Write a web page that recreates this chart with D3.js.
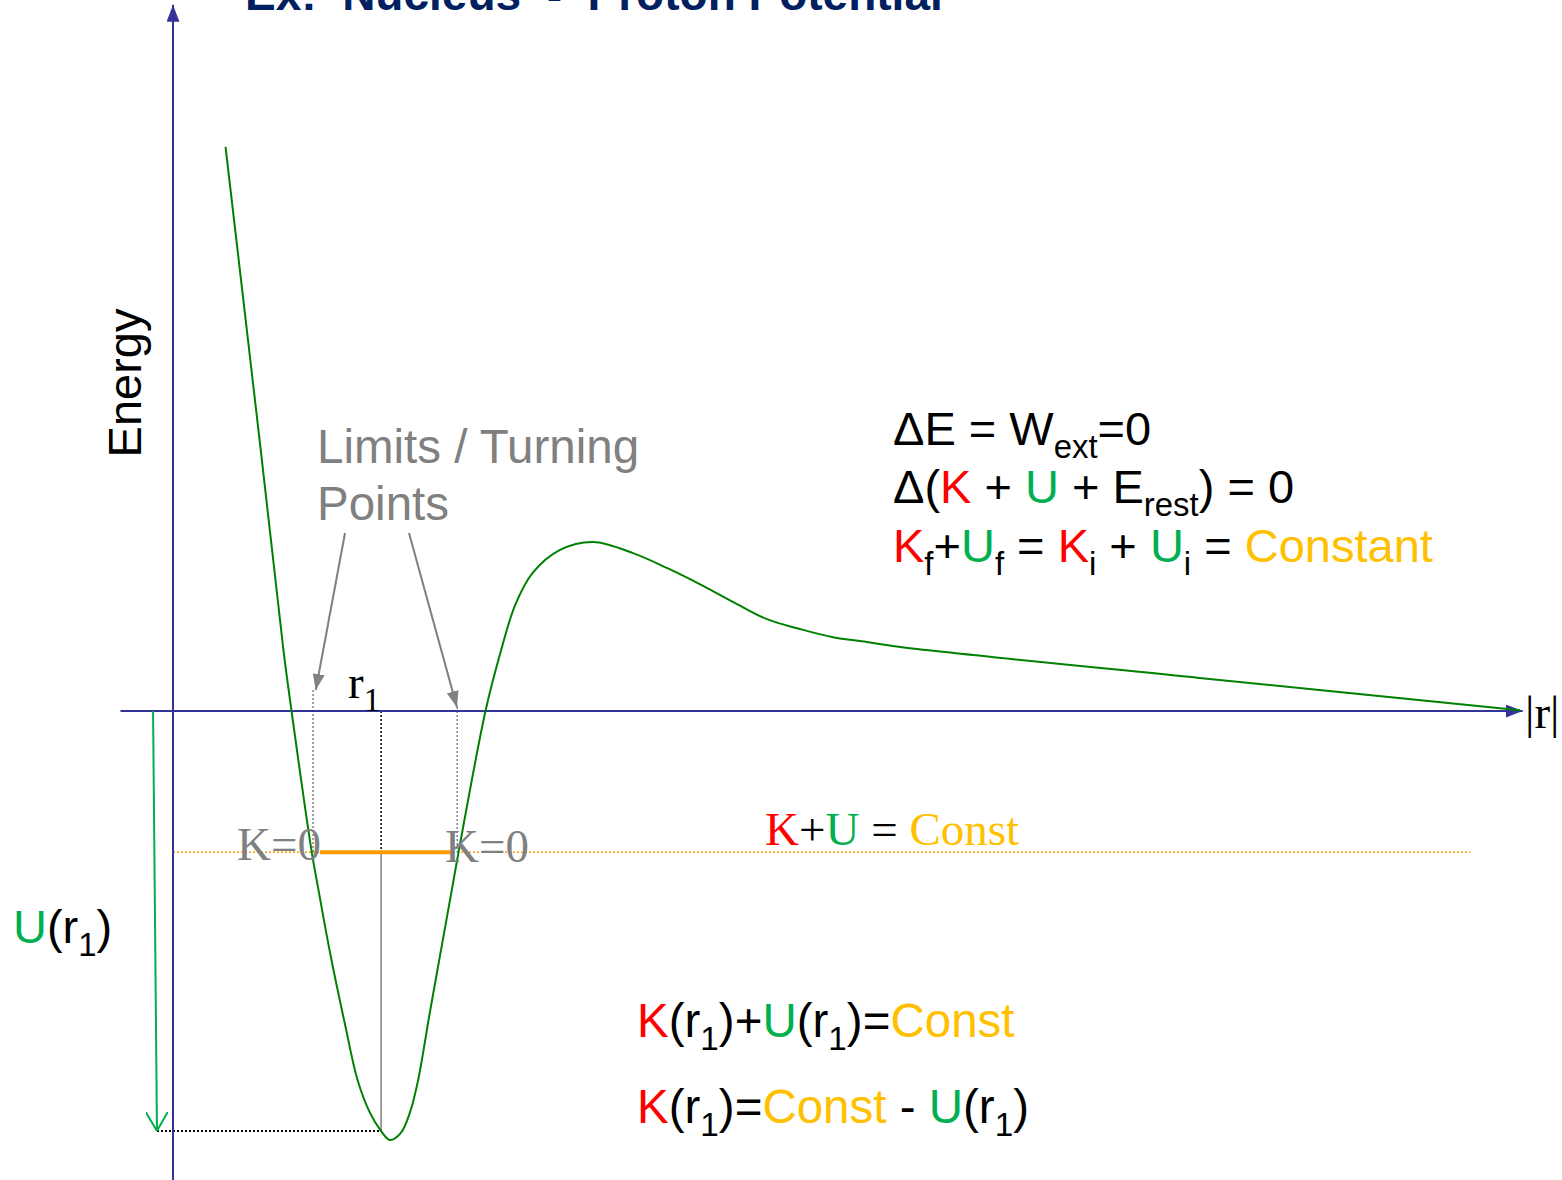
<!DOCTYPE html>
<html>
<head>
<meta charset="utf-8">
<script src="https://cdn.jsdelivr.net/npm/d3@7"></script>
<style>
  html, body { margin: 0; padding: 0; background: #fff; }
  svg text { white-space: pre; }
</style>
</head>
<body>
<div id="chart"></div>
<script>
// Potential curve U(r) (arbitrary units)
const rVals = [3.9, 6.5, 8.2, 8.8, 10.3, 10.8, 11.7, 12.8, 13.7, 14.6, 15.4, 16.1, 16.9, 17.6, 18.2, 19.1,
               20.7, 21.2, 23.2, 24.3, 25.4, 26.7, 28.7, 31.2, 34.15, 36.7, 39.1, 41.6, 44.1, 46.55, 49.0,
               51.5, 54.0, 76.2, 100];
const uVals = [131.5, 61.2, 14.2, 0, -32.9, -41.7, -57, -73.5, -86, -93.5, -97.7, -100, -98.4, -93.5, -86, -69.7,
               -41.7, -32.9, 0, 13.5, 24.7, 32.2, 37.5, 39.4, 36.8, 33.3, 29.6, 25.4, 21.4, 19.1, 17.2,
               16.1, 14.9, 7.7, 0.2];

// constant total energy level and the points marked on it
const constLevel = -32.9;
const constExtent = [0, 96.3];
const turningPoints = [10.4, 21.1];
const allowedRange = [10.9, 20.8];
const r1 = 15.45;
const uAtR1 = -97.9;

// axis extents
const rAxis = [-3.9, 100.2];
const eAxis = [-109.3, 164.6];

const width = 1562, height = 1180;
const red = "#ff0000", green = "#00b050", gold = "#ffc000", grey = "#808080", navy = "#333399";

const x = d3.scaleLinear().domain([0, 100]).range([173, 1520]);
const y = d3.scaleLinear().domain([0, -100]).range([711, 1140]);

const svg = d3.select("#chart")
    .append("svg")
    .attr("width", width)
    .attr("height", height)
    .attr("viewBox", `0 0 ${width} ${height}`);

// Arrow heads
const defs = svg.append("defs");
const addHead = (id, color, w, h, open) => {
    defs.append("marker")
        .attr("id", id)
        .attr("markerUnits", "userSpaceOnUse")
        .attr("viewBox", `0 0 ${w} ${h}`)
        .attr("refX", w).attr("refY", h / 2)
        .attr("markerWidth", w).attr("markerHeight", h)
        .attr("orient", "auto")
        .append("path")
        .attr("d", open ? `M0,0L${w},${h / 2}L0,${h}` : `M0,0L${w},${h / 2}L0,${h}Z`)
        .attr("fill", open ? "none" : color)
        .attr("stroke", open ? color : "none")
        .attr("stroke-width", 2);
};
addHead("head-navy", navy, 17, 13, false);
addHead("head-grey", grey, 16, 12, false);
addHead("head-green", green, 19, 22, true);

// Title (cut off at the top)
svg.append("text")
    .attr("x", 245)
    .attr("y", 10)
    .style("font-family", "Liberation Sans, Arial, sans-serif")
    .style("font-size", "46px")
    .style("font-weight", "bold")
    .style("fill", "#002060")
    .text("Ex:  Nucleus  -  Proton Potential");

// Constant energy line
svg.append("line")
    .attr("x1", x(constExtent[0])).attr("x2", x(constExtent[1]))
    .attr("y1", y(constLevel)).attr("y2", y(constLevel))
    .attr("stroke", "#ff9900")
    .attr("stroke-width", 1.5)
    .attr("stroke-dasharray", "2,2");

// Turning point guides
svg.selectAll(".turn")
    .data(turningPoints)
    .join("line")
    .attr("class", "turn")
    .attr("x1", d => x(d)).attr("x2", d => x(d))
    .attr("y1", (d, i) => i === 0 ? 690 : 707)
    .attr("y2", y(constLevel))
    .attr("stroke", grey)
    .attr("stroke-width", 1.5)
    .attr("stroke-dasharray", "2,2");

// r1 guides
svg.append("line")
    .attr("x1", x(r1)).attr("x2", x(r1))
    .attr("y1", y(0)).attr("y2", y(constLevel))
    .attr("stroke", "#000")
    .attr("stroke-width", 1.5)
    .attr("stroke-dasharray", "2,2");

svg.append("line")
    .attr("x1", x(r1)).attr("x2", x(r1))
    .attr("y1", y(constLevel)).attr("y2", y(uAtR1))
    .attr("stroke", grey)
    .attr("stroke-width", 1.5);

svg.append("line")
    .attr("x1", x(-1.19)).attr("x2", x(r1))
    .attr("y1", y(uAtR1)).attr("y2", y(uAtR1))
    .attr("stroke", "#000")
    .attr("stroke-width", 2)
    .attr("stroke-dasharray", "2,2");

// Allowed region on the constant line
svg.append("line")
    .attr("x1", x(allowedRange[0])).attr("x2", x(allowedRange[1]))
    .attr("y1", y(constLevel)).attr("y2", y(constLevel))
    .attr("stroke", "#ff9900")
    .attr("stroke-width", 4);

// Axes
svg.append("line")
    .attr("x1", x(0)).attr("x2", x(0))
    .attr("y1", y(eAxis[0])).attr("y2", y(eAxis[1]))
    .attr("stroke", navy)
    .attr("stroke-width", 2)
    .attr("marker-end", "url(#head-navy)");

svg.append("line")
    .attr("x1", x(rAxis[0])).attr("x2", x(rAxis[1]))
    .attr("y1", y(0)).attr("y2", y(0))
    .attr("stroke", navy)
    .attr("stroke-width", 2)
    .attr("marker-end", "url(#head-navy)");

// Potential curve
const pts = rVals.map((r, i) => [r, uVals[i]]);
svg.append("path")
    .datum(pts)
    .attr("d", d3.line().x(d => x(d[0])).y(d => y(d[1])).curve(d3.curveCatmullRom.alpha(0.5)))
    .attr("fill", "none")
    .attr("stroke", "#008000")
    .attr("stroke-width", 2);

// U(r1) arrow
svg.append("line")
    .attr("x1", x(-1.48)).attr("x2", x(-1.19))
    .attr("y1", y(0)).attr("y2", y(uAtR1))
    .attr("stroke", green)
    .attr("stroke-width", 2)
    .attr("marker-end", "url(#head-green)");

// Pointers from the label to the turning points
const pointers = [[12.77, 41.5, 10.6, 4.9], [17.52, 41.5, 21.08, 0.9]];
svg.selectAll(".pointer")
    .data(pointers)
    .join("line")
    .attr("class", "pointer")
    .attr("x1", d => x(d[0])).attr("y1", d => y(d[1]))
    .attr("x2", d => x(d[2])).attr("y2", d => y(d[3]))
    .attr("stroke", grey)
    .attr("stroke-width", 2)
    .attr("marker-end", "url(#head-grey)");

// Text helper with colours and subscripts
const SANS = "Liberation Sans, Arial, sans-serif";
const SERIF = "Liberation Serif, Times New Roman, serif";
const rich = (px, py, parts, family, size, base) => {
    const t = svg.append("text")
        .attr("x", px).attr("y", py)
        .style("font-family", family)
        .style("font-size", size + "px")
        .style("fill", base || "#000");
    let shifted = 0;
    parts.forEach(p => {
        const s = t.append("tspan").text(p.t);
        if (p.c) s.style("fill", p.c);
        const want = p.sub ? size * 0.27 : 0;
        if (want !== shifted) { s.attr("dy", want - shifted); shifted = want; }
        if (p.sub) s.style("font-size", (size * 0.7) + "px");
    });
    return t;
};

// Energy label
svg.append("text")
    .attr("transform", "translate(141,383) rotate(-90)")
    .attr("text-anchor", "middle")
    .style("font-family", SANS)
    .style("font-size", "47px")
    .style("fill", "#000")
    .text("Energy");

// Turning point label
rich(317, 463, [{ t: "Limits / Turning" }], SANS, 47.5, grey);
rich(317, 520, [{ t: "Points" }], SANS, 47.5, grey);

// Conservation of energy
rich(893, 445, [{ t: "ΔE = W" }, { t: "ext", sub: true }, { t: "=0" }], SANS, 47);
rich(893, 503, [{ t: "Δ(" }, { t: "K", c: red }, { t: " + " }, { t: "U", c: green }, { t: " + E" },
    { t: "rest", sub: true }, { t: ") = 0" }], SANS, 47);
rich(893, 562, [{ t: "K", c: red }, { t: "f", sub: true }, { t: "+" }, { t: "U", c: green }, { t: "f", sub: true },
    { t: " = " }, { t: "K", c: red }, { t: "i", sub: true }, { t: " + " }, { t: "U", c: green }, { t: "i", sub: true },
    { t: " = " }, { t: "Constant", c: gold }], SANS, 47);

// K+U = Const
rich(765, 845, [{ t: "K", c: red }, { t: "+" }, { t: "U", c: green }, { t: " = " }, { t: "Const", c: gold }], SERIF, 47);

// K=0 labels
rich(237, 860, [{ t: "K=0" }], SERIF, 47, grey);
rich(445, 862, [{ t: "K=0" }], SERIF, 47, grey);

// r1 and |r|
rich(348, 698, [{ t: "r" }, { t: "1", sub: true }], SERIF, 47);
rich(1525, 728, [{ t: "|r|" }], SERIF, 47);

// U(r1)
rich(13, 943, [{ t: "U", c: green }, { t: "(r" }, { t: "1", sub: true }, { t: ")" }], SANS, 47);

// Bottom equations
rich(637, 1037, [{ t: "K", c: red }, { t: "(r" }, { t: "1", sub: true }, { t: ")+" }, { t: "U", c: green },
    { t: "(r" }, { t: "1", sub: true }, { t: ")=" }, { t: "Const", c: gold }], SANS, 47.5);
rich(637, 1123, [{ t: "K", c: red }, { t: "(r" }, { t: "1", sub: true }, { t: ")=" }, { t: "Const", c: gold },
    { t: " - " }, { t: "U", c: green }, { t: "(r" }, { t: "1", sub: true }, { t: ")" }], SANS, 47.5);
</script>
</body>
</html>
